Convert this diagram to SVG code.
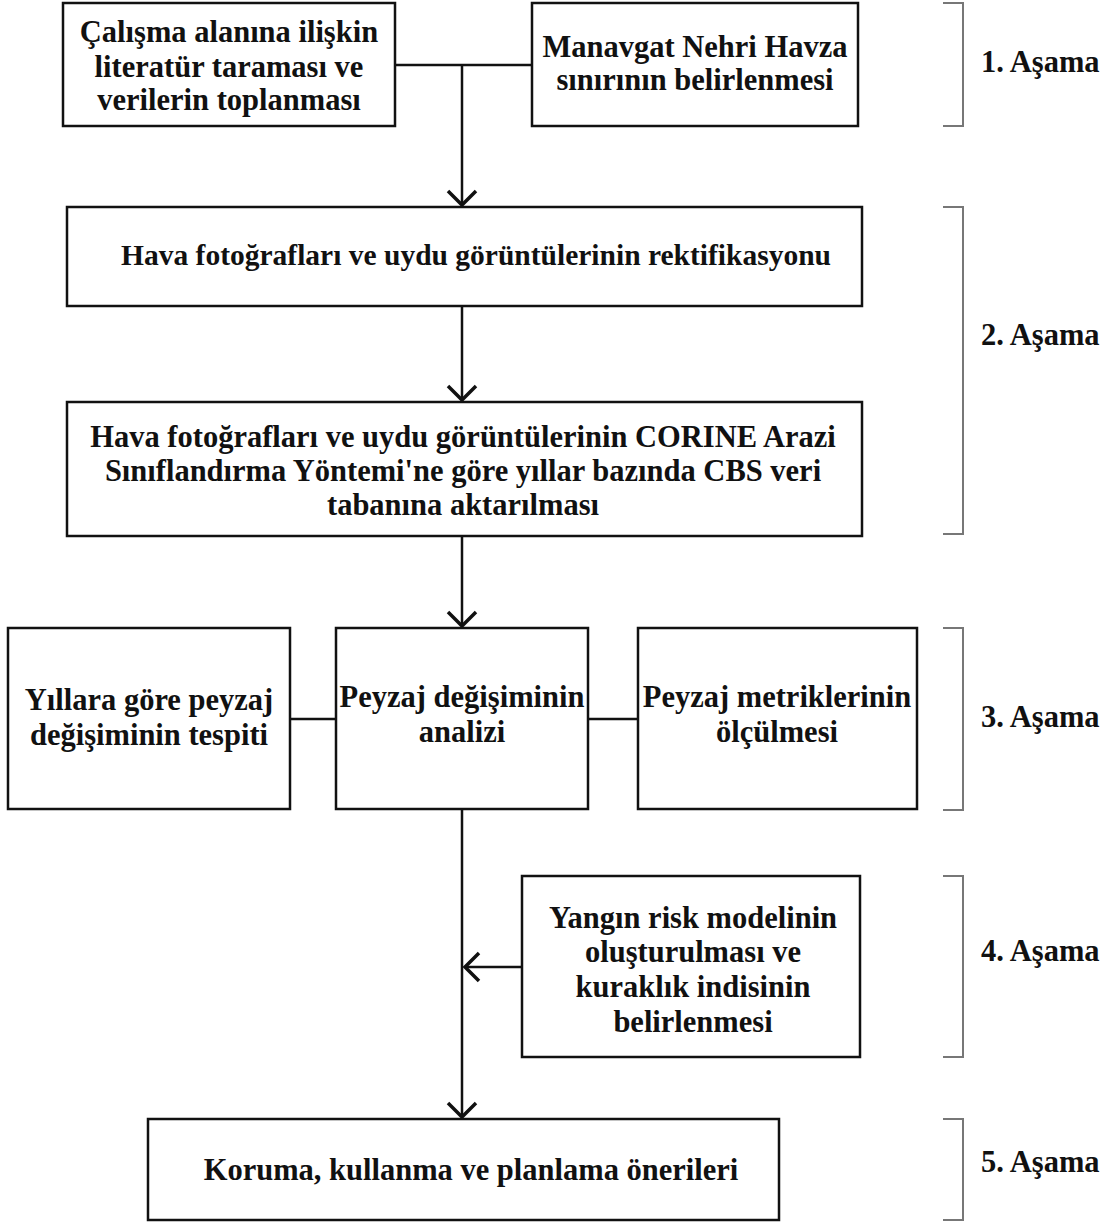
<svg xmlns="http://www.w3.org/2000/svg" width="1108" height="1222" viewBox="0 0 1108 1222">
<style>
.box{fill:#fff;stroke:#111;stroke-width:2.5}
.t{font-family:"Liberation Serif","Times New Roman",serif;font-weight:bold;font-size:30.5px;fill:#111;text-anchor:middle}
.lbl{font-family:"Liberation Serif","Times New Roman",serif;font-weight:bold;font-size:30.5px;fill:#111}
.c{fill:none;stroke:#111;stroke-width:2.5}
.br{fill:none;stroke:#777;stroke-width:2}
</style>
<defs>
<marker id="ah" viewBox="-18 -18 22 36" refX="0" refY="0" markerWidth="22" markerHeight="36" markerUnits="userSpaceOnUse" orient="auto">
<path d="M -14 -14 L 0 0 L -14 14" fill="none" stroke="#111" stroke-width="3.5"/>
</marker>
</defs>
<rect width="1108" height="1222" fill="#fff"/>
<g id="connectors">
<path class="c" d="M395 65 H532"/>
<path class="c" d="M462 65 V205" marker-end="url(#ah)"/>
<path class="c" d="M462 306 V400" marker-end="url(#ah)"/>
<path class="c" d="M462 536 V626" marker-end="url(#ah)"/>
<path class="c" d="M290 719 H336"/>
<path class="c" d="M588 719 H638"/>
<path class="c" d="M462 810 V1117" marker-end="url(#ah)"/>
<path class="c" d="M522 967 H465" marker-end="url(#ah)"/>
</g>
<g id="n1"><rect class="box" x="63" y="3" width="332" height="123"/>
<text class="t" x="229" y="42">Çalışma alanına ilişkin</text>
<text class="t" x="229" y="77">literatür taraması ve</text>
<text class="t" x="229" y="110">verilerin toplanması</text></g>
<g id="n2"><rect class="box" x="532" y="3" width="326" height="123"/>
<text class="t" x="695" y="57">Manavgat Nehri Havza</text>
<text class="t" x="695" y="90">sınırının belirlenmesi</text></g>
<g id="n3"><rect class="box" x="67" y="207" width="795" height="99"/>
<text class="t" x="476" y="265" style="font-size:29.5px">Hava fotoğrafları ve uydu görüntülerinin rektifikasyonu</text></g>
<g id="n4"><rect class="box" x="67" y="402" width="795" height="134"/>
<text class="t" x="463" y="447">Hava fotoğrafları ve uydu görüntülerinin CORINE Arazi</text>
<text class="t" x="463" y="481">Sınıflandırma Yöntemi'ne göre yıllar bazında CBS veri</text>
<text class="t" x="463" y="515">tabanına aktarılması</text></g>
<g id="n5"><rect class="box" x="8" y="628" width="282" height="181"/>
<text class="t" x="149" y="710">Yıllara göre peyzaj</text>
<text class="t" x="149" y="745">değişiminin tespiti</text></g>
<g id="n6"><rect class="box" x="336" y="628" width="252" height="181"/>
<text class="t" x="462" y="707">Peyzaj değişiminin</text>
<text class="t" x="462" y="742">analizi</text></g>
<g id="n7"><rect class="box" x="638" y="628" width="279" height="181"/>
<text class="t" x="777" y="707">Peyzaj metriklerinin</text>
<text class="t" x="777" y="742">ölçülmesi</text></g>
<g id="n8"><rect class="box" x="522" y="876" width="338" height="181"/>
<text class="t" x="693" y="928">Yangın risk modelinin</text>
<text class="t" x="693" y="962">oluşturulması ve</text>
<text class="t" x="693" y="997">kuraklık indisinin</text>
<text class="t" x="693" y="1032">belirlenmesi</text></g>
<g id="n9"><rect class="box" x="148" y="1119" width="631" height="101"/>
<text class="t" x="471" y="1180">Koruma, kullanma ve planlama önerileri</text></g>
<g id="stages">
<path class="br" d="M943 3 H963 V126 H943"/>
<path class="br" d="M943 207 H963 V534 H943"/>
<path class="br" d="M943 628 H963 V810 H943"/>
<path class="br" d="M943 876 H963 V1057 H943"/>
<path class="br" d="M943 1119 H963 V1220 H943"/>
<text class="lbl" x="981" y="72">1. Aşama</text>
<text class="lbl" x="981" y="345">2. Aşama</text>
<text class="lbl" x="981" y="727">3. Aşama</text>
<text class="lbl" x="981" y="961">4. Aşama</text>
<text class="lbl" x="981" y="1172">5. Aşama</text>
</g>
</svg>
